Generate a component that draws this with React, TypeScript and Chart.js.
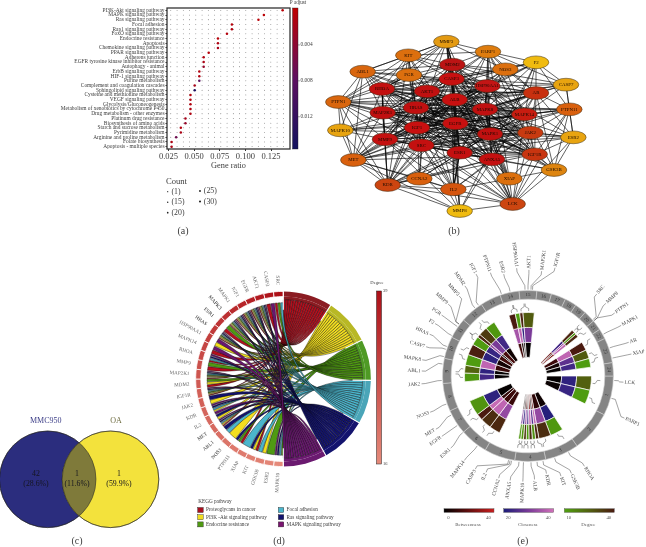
import React, { useEffect, useRef } from "react";
import { Chart, registerables } from "chart.js";
Chart.register(...registerables);

const SERIF = '"Liberation Serif", serif';
const INK = "#3c3c3c";

/* ---------- panel a ---------- */
const pathways = ["PI3K-Akt signaling pathway","MAPK signaling pathway","Ras signaling pathway","Focal adhesion","Rap1 signaling pathway","FoxO signaling pathway","Endocrine resistance","Apoptosis","Chemokine signaling pathway","PPAR signaling pathway","Adherens junction","EGFR tyrosine kinase inhibitor resistance","Autophagy - animal","ErbB signaling pathway","HIF-1 signaling pathway","Purine metabolism","Complement and coagulation cascades","Sphingolipid signaling pathway","Cysteine and methionine metabolism","VEGF signaling pathway","Glycolysis/Gluconeogenesis","Metabolism of xenobiotics by cytochrome P450","Drug metabolism - other enzymes","Platinum drug resistance","Biosynthesis of amino acids","Starch and sucrose metabolism","Pyrimidine metabolism","Arginine and proline metabolism","Folate biosynthesis","Apoptosis - multiple species"];
const geneRatio = [0.1363,0.118,0.1127,0.0868,0.0868,0.082,0.0732,0.0732,0.0732,0.0642,0.0593,0.0593,0.0593,0.055,0.055,0.055,0.0505,0.0505,0.0464,0.0464,0.0464,0.0464,0.0464,0.0415,0.0415,0.037,0.037,0.0324,0.028,0.028];
const pAdjust = [0.0005,0.0004,0.0006,0.001,0.0012,0.001,0.0008,0.0015,0.002,0.0009,0.0012,0.0016,0.0035,0.0012,0.0013,0.0085,0.002,0.0145,0.0011,0.0012,0.0012,0.0013,0.0015,0.0022,0.0035,0.0012,0.0018,0.0065,0.0015,0.0015];
const ratioColumns = [0.0272,0.0333,0.0394,0.0455,0.0516,0.0577,0.0638,0.0699,0.076,0.0821,0.0882,0.0943,0.1004,0.1065,0.1126,0.1187,0.1248,0.1309,0.137];
const padjTicks = [0.004, 0.008, 0.012];
const countLegend = ["(1)", "(15)", "(20)", "(25)", "(30)"];

/* ---------- panel b ---------- */
const nodeNames = ["MMP3","KIT","PARP1","F2","ABL1","PGR","NOS3","MDM2","CASP3","HSP90AA1","CASP7","RHOA","AKT1","AR","ALB","PTPN1","HRAS","MAPK8","MAP2K1","MAPK14","PTPN11","EGFR","IGF1","MAPK10","MAPK1","JAK2","MMP9","ESR2","SRC","ESR1","IGF1R","ANXA5","MET","GSK3B","CCNA2","XIAP","KDR","IL2","LCK","MMP8"];
const nodeX = [409,295,534,678,158,297,586,427,425,532,768,216,351,678,434,85,318,525,218,643,778,436,321,91,540,661,225,790,334,449,674,546,130,732,328,598,233,430,608,449];
const nodeY = [65,106,95,127,155,165,148,134,177,198,194,207,214,219,239,246,263,268,278,283,268,310,323,331,342,338,358,352,376,398,403,418,420,450,476,476,495,508,552,573];
const nodeFill = ["#e39a12","#dc6f0e","#de7c0e","#f0bb10","#d9660e","#dc6f0e","#dc6f0e","#bb1414","#c81010","#c31515","#e8a410","#c41010","#c01010","#c8300f","#c81010","#d9660e","#c01010","#c01010","#c01010","#c81c10","#d9600e","#c81010","#c81010","#e8a410","#c01010","#c83a10","#c41010","#e8a410","#c41010","#c41010","#c83510","#c41010","#d9600e","#de8510","#d9600e","#dc700e","#cc4510","#d5550e","#cc4510","#f0bb10"];
const edgeLists: Record<string, string> = {
  ALB: "EGFR AKT1 HRAS MAPK8 MAPK1 MAPK14 IGF1 SRC ESR1 CASP3 HSP90AA1 RHOA MMP9 MAP2K1 ANXA5 MDM2 IGF1R JAK2 AR IL2 KDR MET MMP3 PARP1 NOS3 PGR F2 CASP7 XIAP LCK MMP8 ABL1 PTPN1",
  EGFR: "AKT1 HRAS MAPK8 MAPK1 MAPK14 IGF1 SRC ESR1 CASP3 HSP90AA1 RHOA MMP9 MAP2K1 ANXA5 MDM2 IGF1R JAK2 AR IL2 KDR MET PTPN1 PTPN11 KIT ABL1 ESR2 GSK3B LCK MAPK10 CCNA2 NOS3 PARP1",
  AKT1: "HRAS MAPK8 MAPK1 MAPK14 IGF1 SRC ESR1 CASP3 HSP90AA1 RHOA MMP9 MAP2K1 ANXA5 MDM2 IGF1R JAK2 AR KDR MET PTPN1 GSK3B XIAP CCNA2 PARP1 NOS3 IL2 PGR LCK KIT",
  MAPK1: "HRAS MAPK8 MAPK14 IGF1 SRC ESR1 CASP3 HSP90AA1 RHOA MMP9 MAP2K1 ANXA5 MDM2 IGF1R JAK2 AR MET KDR PTPN11 GSK3B ESR2 LCK XIAP PARP1 CCNA2 MMP3 MAPK10 PTPN1",
  HRAS: "MAPK8 MAPK14 IGF1 SRC ESR1 CASP3 HSP90AA1 RHOA MMP9 MAP2K1 ANXA5 MDM2 IGF1R JAK2 AR MET KDR PTPN1 PTPN11 ABL1 MAPK10 KIT PGR IL2 CASP7",
  MAPK8: "MAPK14 IGF1 SRC ESR1 CASP3 HSP90AA1 RHOA MMP9 MAP2K1 ANXA5 MDM2 IGF1R JAK2 AR MET XIAP GSK3B PARP1 MAPK10 F2 CASP7 ESR2 LCK",
  SRC: "MAPK14 IGF1 ESR1 CASP3 HSP90AA1 RHOA MMP9 MAP2K1 ANXA5 MDM2 IGF1R JAK2 AR MET KDR PTPN1 PTPN11 ABL1 KIT LCK IL2 ESR2 CCNA2 MMP8",
  ESR1: "MAPK14 IGF1 CASP3 HSP90AA1 RHOA MMP9 MAP2K1 ANXA5 MDM2 IGF1R JAK2 AR IL2 PGR ESR2 CCNA2 KDR LCK XIAP NOS3 MMP3 GSK3B",
  IGF1: "MAPK14 CASP3 HSP90AA1 RHOA MMP9 MAP2K1 ANXA5 MDM2 IGF1R JAK2 AR MET KDR IL2 PTPN1 PTPN11 PGR NOS3 MMP3 F2 CCNA2",
  CASP3: "MAPK14 HSP90AA1 RHOA MMP9 MAP2K1 ANXA5 MDM2 IGF1R JAK2 AR XIAP PARP1 IL2 NOS3 CASP7 MMP3 F2 KIT LCK MMP8 PGR",
  HSP90AA1: "MAPK14 RHOA MMP9 MAP2K1 ANXA5 MDM2 IGF1R JAK2 AR PARP1 NOS3 KIT ABL1 MET KDR ESR2 PGR CASP7",
  RHOA: "MAPK14 MMP9 MAP2K1 ANXA5 MDM2 IGF1R JAK2 AR KIT PGR ABL1 PTPN1 MET KDR MMP3 F2",
  MMP9: "MAPK14 MAP2K1 ANXA5 MDM2 IGF1R JAK2 AR MET KDR IL2 MAPK10 PTPN1 MMP3 MMP8 LCK F2",
  MAP2K1: "MAPK14 ANXA5 MDM2 IGF1R JAK2 MET KDR PTPN1 PTPN11 ABL1 KIT MAPK10 LCK",
  ANXA5: "MAPK14 IGF1R JAK2 AR IL2 LCK XIAP KDR GSK3B MMP8 CCNA2 F2",
  MDM2: "MAPK14 IGF1R JAK2 AR MMP3 PARP1 NOS3 KIT PGR XIAP CASP7 ABL1",
  IGF1R: "MAPK14 JAK2 AR MET KDR PTPN11 GSK3B LCK ESR2 XIAP PARP1",
  MAPK14: "JAK2 AR PTPN11 GSK3B CASP7 F2 NOS3 PARP1 LCK MAPK10",
  JAK2: "AR PTPN11 ESR2 LCK KDR IL2 ABL1 MET",
  AR: "PTPN11 CASP7 ESR2 F2 NOS3 PARP1 GSK3B",
  MMP3: "PARP1 KIT PGR NOS3 ABL1 PTPN1 MMP8",
  KIT: "ABL1 PGR PTPN1 KDR PARP1",
  PARP1: "NOS3 F2 CASP7 XIAP",
  F2: "CASP7 NOS3 PTPN11 MMP8",
  ABL1: "PTPN1 PGR MET MAPK10",
  PTPN1: "MET MAPK10 KDR PGR PTPN11",
  MAPK10: "MET KDR",
  MET: "KDR CCNA2 IL2 MMP8",
  KDR: "IL2 CCNA2 MMP8 LCK",
  IL2: "MMP8 LCK CCNA2 XIAP",
  LCK: "XIAP GSK3B ESR2 MMP8 PTPN11",
  GSK3B: "ESR2 XIAP PTPN11",
  ESR2: "PTPN11 CASP7",
  CASP7: "PTPN11",
};
const strongEdges = ["MMP3 MDM2","MDM2 CASP3","ESR1 IL2","EGFR ESR1","ALB EGFR","PGR RHOA","AKT1 HRAS","HSP90AA1 MAPK8","MAPK8 MAPK1"];

/* ---------- panel c ---------- */
const vennSets = ["MMC950", "OA"];
const vennCounts = ["42", "1", "1"];
const vennShares = ["(28.6%)", "(11.6%)", "(59.9%)"];

/* ---------- panel d ---------- */
const chordPathways = ["Proteoglycans in cancer","PI3K -Akt signaling pathway","Endocrine resistance","Focal adhesion","Ras signaling pathway","MAPK signaling pathway"];
const chordFill = ["#b40f1e","#f2de1f","#4f9a12","#4bb5cc","#12126e","#6a1570"];
const chordBand = ["#8b1c22","#b8b825","#4f9a25","#4aa5b8","#14146e","#6b1a70"];
const chordLegendSwatch = ["#a80f1e","#f0dc20","#4f9a12","#4bb5cc","#12126e","#7a1570"];
const chordGenes = ["MAPK10","ESR2","GSK3B","KIT","XIAP","PTPN11","NOS3","ABL1","MET","IL2","KDR","JAK2","IGF1R","MDM2","MAP2K1","MMP9","RHOA","MAPK14","HSP90AA1","HRAS","ESR1","MAPK3","MAPK1","IGF1","EGFR","AKT1","CASP3","SRC"];
const chordDegree = [16,17,18,18,19,19,20,21,22,22,23,24,24,25,26,27,28,29,30,31,32,33,34,35,36,37,38,39];
const chordMember = ["EFRM","E","IF","PIR","F","PER","I","FR","PIFRM","IRM","IFRM","IR","PIEFRM","PIE","PIEFRM","PE","PFRM","PM","IM","PIEFRM","PE","PIEFRM","PIEFRM","PIEFRM","PIEFRM","PIEFRM","PM","PEF"];
const chordDark = ["MAPK3","ESR1","HRAS","MET","ABL1","NOS3"];
const pathwayKeys = "PIEFRM";

/* ---------- panel e ---------- */
const ringLabels = ["1","2","3","4","5","6","7","8","9","10","11","12","13","14","15","16","17","18","19","20","21","22","23","24"];
const ringSpans = [27,28,23,21,21,19,17,19,17,15,14,16,14,13,12,10,10,8,8,8,7,7,17,9];
const heatSpans = [13,13,31,12,11,3,3,3,2.5,2.5,2.5,2,18,10,10,6,14,18,8,7,10,10,8,3,8,9,14.6,6,4,3,10.2,38.2,3,2,3,6,8,8,8,8];
const heatBetween = [1,2,null,3,9,20,5,26,3,16,6,4,null,11,12,10,1,null,1,1,11,4,13,2,14,3,null,13,5,2,1,null,22,10,24,null,12,4,1,null];
const heatClose = [22,23,null,21,33,38,26,39,24,34,22,30,null,33,38,39,22,null,24,22,38,22,23,34,30,24,null,35,38,22,30,null,24,33,38,null,38,27,24,null];
const heatDegree = [25,11,null,12,36,38,14,36,11,34,13,12,null,37,36,40,13,null,12,24,11,39,11,38,33,12,null,40,11,38,26,null,38,12,37,null,40,26,11,null];
const eGenes = ["MMP3","MMP9","PGR","F2","HRAS","CASP7","MAPK8","ABL1","JAK2","NOS3","MET","EGFR","ESR1","MAPK14","CASP3","IL2","CCNA2","ANXA5","MAPK10","ALB","KDR","KIT","GSK3B","RHOA","PARP1","LCK","XIAP","AR","MAPK1","PTPN1","MMP8","SRC","IGF1R","MAP2K1","AKT1","HSP90AA1","ESR2","PTPN11","IGF1","MDM2"];
const eLabelAngle = [319.3,312,305.2,299.4,293,286,278.7,272.7,265.8,249.7,240,235,227,217,209.5,203.5,196,189.7,182.8,176.4,169.3,161.8,156,148,113.6,93.7,78,71.5,61.5,54,47,40,14,7.4,0.5,354,346.6,340,333,325];
const eLabelRadius = [114,116,112,110.6,115,115,117,114,114,112,113,113,113,117,116,110,116,116,117,110,106,111,116,115,114,102,113,111,116,116,115,113,120,117,114,122,112,120,121,119];
const eAnchorAngle = [307,307,305,298,290,288,283,278,267,251,243,235,229,216,193,192,191,186,183,178,174,170,162,152,105,93,78,71,61,50,50,49,3,2,0,358,348,342,325,322];
const betweenBar = ["#000000", "#c81e1e"];
const closeBar = ["#1c1c78", "#7a3a98", "#d070b8"];
const degreeBar = ["#4fa010", "#52600f", "#4a1a10"];
const barTitles = ["Betweenness", "Closeness", "Degree"];
const barTicks = [["0","40"],["20","40"],["10","40"]];

/* ---------- helpers ---------- */
type Box = { x: number; y: number; w: number; h: number };
const text = (ctx: any, s: string, x: number, y: number, size: number, color = INK, align = "center", rot = 0) => {
  ctx.save();
  ctx.translate(x, y);
  if (rot) ctx.rotate(rot);
  ctx.font = `${size}px ${SERIF}`;
  ctx.fillStyle = color;
  ctx.textAlign = align;
  ctx.textBaseline = "middle";
  ctx.fillText(s, 0, 0);
  ctx.restore();
};
const hex = (c: string) => [1, 3, 5].map((i) => parseInt(c.slice(i, i + 2), 16));
const ramp = (stops: string[], t: number) => {
  const u = Math.max(0, Math.min(0.9999, t)) * (stops.length - 1);
  const i = Math.floor(u), f = u - i;
  const a = hex(stops[i]), b = hex(stops[i + 1]);
  return `rgb(${a.map((v, k) => Math.round(v + (b[k] - v) * f)).join(",")})`;
};
const padjStops = ["#c00000", "#5e1060", "#12125e"];
const PADJ_MAX = 0.0157;
let pluginSeq = 0;
const page = (box: Box, draw: (ctx: any, chart: any) => void) => ({
  id: "page" + pluginSeq++,
  afterDatasetsDraw(chart: any) {
    const ctx = chart.ctx;
    ctx.save();
    ctx.translate(-box.x, -box.y);
    draw(ctx, chart);
    ctx.restore();
  },
});
const hideAxis = { display: false };
const base = { responsive: false, animation: false, events: [], plugins: { legend: { display: false }, tooltip: { enabled: false } } };

/* ---------- configs ---------- */
function configA(box: Box) {
  const grid: any[] = [];
  pathways.forEach((p) => ratioColumns.forEach((r) => grid.push({ x: r, y: p })));
  const points = pathways.map((p, i) => ({ x: geneRatio[i], y: p }));
  return {
    type: "scatter",
    data: { datasets: [
      { data: points, order: 1, pointRadius: 1.25, borderWidth: 0, backgroundColor: pAdjust.map((v) => ramp(padjStops, v / PADJ_MAX)) },
      { data: grid, order: 2, pointRadius: 0.42, borderWidth: 0, backgroundColor: "#333" },
    ] },
    options: { ...base,
      layout: { autoPadding: false, padding: { top: 8, right: box.w - 290, bottom: box.h - 171, left: 0 } },
      scales: {
        x: { type: "linear", min: 0.0235, max: 0.1435,
          afterFit: (s: any) => { s.height = 22; },
          grid: { drawOnChartArea: false, tickLength: 2, color: "#333" }, border: { display: false },
          ticks: { stepSize: 0.025, includeBounds: false, padding: 1, maxRotation: 0, color: INK, font: { family: SERIF, size: 8.5 }, callback: (v: number) => v.toFixed(3) },
          title: { display: true, text: "Gene ratio", color: INK, padding: 0, font: { family: SERIF, size: 8.3 } } },
        y: { type: "category", labels: pathways, offset: true,
          afterFit: (s: any) => { s.width = 167; },
          grid: { drawOnChartArea: false, tickLength: 1.5, color: "#333" }, border: { display: false },
          ticks: { autoSkip: false, padding: 1, color: INK, font: { family: SERIF, size: 5.4 } } },
      },
    },
    plugins: [page(box, (ctx, chart) => {
      const a = chart.chartArea;
      ctx.strokeStyle = "#333"; ctx.lineWidth = 1.3;
      ctx.strokeRect(a.left, a.top, a.right - a.left, a.bottom - a.top);
      const g = ctx.createLinearGradient(0, a.top, 0, a.bottom);
      padjStops.forEach((c, i) => g.addColorStop(i / 2, c));
      ctx.fillStyle = g; ctx.fillRect(292.5, a.top, 5.5, a.bottom - a.top);
      ctx.strokeStyle = "#222"; ctx.lineWidth = 0.4; ctx.strokeRect(292.5, a.top, 5.5, a.bottom - a.top);
      padjTicks.forEach((v) => {
        const y = a.top + (v / PADJ_MAX) * (a.bottom - a.top) + 1;
        ctx.beginPath(); ctx.moveTo(298, y); ctx.lineTo(300, y); ctx.stroke();
        text(ctx, v.toFixed(3), 300.5, y, 5.4, INK, "left");
      });
      text(ctx, "P adjust", 298, 2.5, 5.2);
      text(ctx, "Count", 166, 182, 8.6, INK, "left");
      countLegend.forEach((s, i) => {
        const col = i < 3 ? 0 : 1;
        const y = col ? 191 + (i - 3) * 10.5 : 191.7 + i * 10.5;
        const x = col ? 200 : 167.7;
        ctx.fillStyle = "#222"; ctx.beginPath(); ctx.arc(x, y, 0.6 + i * 0.12, 0, 7); ctx.fill();
        text(ctx, s, x + 3.8, y, 7.8, INK, "left");
      });
      text(ctx, "(a)", 183, 231, 10);
    })],
  };
}

function configB(box: Box) {
  const pos: Record<string, { x: number; y: number }> = {};
  nodeNames.forEach((n, i) => { pos[n] = { x: nodeX[i], y: nodeY[i] }; });
  const gap = { x: NaN, y: NaN };
  const edges: any[] = [];
  Object.entries(edgeLists).forEach(([a, list]) => list.split(" ").forEach((b) => { if (pos[a] && pos[b]) edges.push(pos[a], pos[b], gap); }));
  const strong: any[] = [];
  strongEdges.forEach((e) => { const [a, b] = e.split(" "); strong.push(pos[a], pos[b], gap); });
  return {
    type: "scatter",
    data: { datasets: [
      { data: nodeNames.map((n) => pos[n]), order: 1, pointRadius: 5, borderWidth: 0, backgroundColor: nodeFill },
      { data: edges, order: 3, showLine: true, pointRadius: 0, borderWidth: 0.7, borderColor: "rgba(5,5,5,0.9)", spanGaps: false },
      { data: strong, order: 2, showLine: true, pointRadius: 0, borderWidth: 1.4, borderColor: "#111", spanGaps: false },
    ] },
    options: { ...base, layout: { autoPadding: false, padding: 0 },
      scales: { x: { ...hideAxis, type: "linear", min: 0, max: 1008 }, y: { ...hideAxis, type: "linear", min: 0, max: 780, reverse: true } } },
    plugins: [page(box, (ctx, chart) => {
      const meta = chart.getDatasetMeta(0);
      meta.data.forEach((pt: any, i: number) => {
        const x = pt.x + box.x, y = pt.y + box.y;
        ctx.beginPath(); ctx.ellipse(x, y, 12.8, 6.4, 0, 0, 7);
        ctx.fillStyle = nodeFill[i]; ctx.fill();
        ctx.strokeStyle = "#3a2a10"; ctx.lineWidth = 0.5; ctx.stroke();
        text(ctx, nodeNames[i], x, y, 4.9, "#1a0a00");
      });
      text(ctx, "(b)", 454, 231, 10);
    })],
  };
}

function configC(box: Box) {
  const R = 48.3;
  const discs = [{ x: 47.7, y: 69.3, r: R }, { x: 110.5, y: 69.3, r: R }];
  return {
    type: "bubble",
    data: { datasets: [{ data: discs, clip: false, borderWidth: 0.5, borderColor: "#222", backgroundColor: ["#2b2d7e", "#f3e23c"] }] },
    options: { ...base, layout: { autoPadding: false, padding: 0 },
      scales: { x: { ...hideAxis, min: 0, max: box.w }, y: { ...hideAxis, min: 0, max: box.h, reverse: true } } },
    plugins: [page(box, (ctx, chart) => {
      const [a, b] = chart.getDatasetMeta(0).data;
      const ax = a.x + box.x, ay = a.y + box.y, bx = b.x + box.x, by = b.y + box.y;
      ctx.save();
      ctx.beginPath(); ctx.arc(ax, ay, R, 0, 7); ctx.clip();
      ctx.beginPath(); ctx.arc(bx, by, R, 0, 7); ctx.fillStyle = "#7f7a3a"; ctx.fill();
      ctx.restore();
      ctx.strokeStyle = "#222"; ctx.lineWidth = 0.5;
      ctx.beginPath(); ctx.arc(ax, ay, R, 0, 7); ctx.stroke();
      ctx.beginPath(); ctx.arc(bx, by, R, 0, 7); ctx.stroke();
      text(ctx, vennSets[0], 45.7, 420.7, 8, "#3a3c86");
      text(ctx, vennSets[1], 116, 420.7, 8, "#6e6c40");
      const cx = [36, 77, 119];
      vennCounts.forEach((s, i) => {
        text(ctx, s, cx[i], 474, 7.8, "#15151f");
        text(ctx, vennShares[i], cx[i], 484, 7.8, "#15151f");
      });
      text(ctx, "(c)", 77, 541.5, 10);
    })],
  };
}

function configD(box: Box) {
  const counts = pathwayKeys.split("").map((k) => chordMember.filter((m) => m.includes(k)).length);
  const total = counts.reduce((a, b) => a + b, 0);
  const geneShare = chordGenes.map(() => total / chordGenes.length);
  const geneColor = chordDegree.map((d) => ramp(["#e58a7a", "#ad1018"], (d - 16) / 23));
  const cx = 283.3 - box.x, cy = 379 - box.y, R = 88;
  return {
    type: "doughnut",
    data: { labels: [...chordPathways, ...chordGenes], datasets: [
      { data: [...counts, ...geneShare], weight: 5.2, backgroundColor: [...chordBand, ...geneColor], borderColor: "#fff", borderWidth: [0,0,0,0,0,0, ...geneShare.map(() => 0.8)] },
      { data: [...counts, ...geneShare], weight: 3.2, backgroundColor: [...chordBand, ...geneShare.map(() => "rgba(0,0,0,0)")], borderWidth: 0 },
    ] },
    options: { ...base, cutout: "90.5%", rotation: 0, circumference: 360,
      layout: { padding: { left: cx - R, right: box.w - cx - R, top: cy - R, bottom: box.h - cy - R } } },
    plugins: [page(box, (ctx, chart) => {
      const outer = chart.getDatasetMeta(0).data, inner = chart.getDatasetMeta(1).data;
      const ox = outer[0].x + box.x, oy = outer[0].y + box.y;
      const rp = inner[0].innerRadius, rg = rp - 3, rc = rp * 0.3;
      const used = counts.map(() => 0);
      const bands: any[][] = counts.map(() => []);
      for (let g = 0; g < chordGenes.length; g++) {
        const arc = outer[6 + g];
        const keys = chordMember[g].split("").map((k) => pathwayKeys.indexOf(k)).sort((a, b) => a - b);
        const w = (arc.endAngle - arc.startAngle) / keys.length;
        keys.forEach((p, j) => {
          const pa = outer[p];
          const pw = (pa.endAngle - pa.startAngle) / counts[p];
          const s = used[p]++;
          bands[p].push([pa.startAngle + s * pw, pa.startAngle + (s + 1) * pw, arc.startAngle + j * w + 0.004, arc.startAngle + (j + 1) * w - 0.004]);
        });
      }
      const cp = (a: number) => [ox + rc * Math.cos(a), oy + rc * Math.sin(a)];
      bands.forEach((list, p) => list.forEach(([a0, a1, b0, b1]) => {
        const [c1x, c1y] = cp(a1), [c2x, c2y] = cp(b0), [c3x, c3y] = cp(b1), [c4x, c4y] = cp(a0);
        ctx.beginPath();
        ctx.arc(ox, oy, rp, a0, a1);
        ctx.bezierCurveTo(c1x, c1y, c2x, c2y, ox + rg * Math.cos(b0), oy + rg * Math.sin(b0));
        ctx.arc(ox, oy, rg, b0, b1);
        ctx.bezierCurveTo(c3x, c3y, c4x, c4y, ox + rp * Math.cos(a0), oy + rp * Math.sin(a0));
        ctx.closePath();
        ctx.fillStyle = chordFill[p]; ctx.fill();
        ctx.strokeStyle = "#0a0a0a"; ctx.lineWidth = 0.42; ctx.stroke();
      }));
      ctx.strokeStyle = "#fff"; ctx.lineWidth = 1.1;
      for (let p = 0; p <= 6; p++) {
        const a = p < 6 ? outer[p].startAngle : outer[5].endAngle;
        ctx.beginPath();
        ctx.moveTo(ox + (rp - 10) * Math.cos(a), oy + (rp - 10) * Math.sin(a));
        ctx.lineTo(ox + (R + 1) * Math.cos(a), oy + (R + 1) * Math.sin(a));
        ctx.stroke();
      }
      chordGenes.forEach((name, g) => {
        const arc = outer[6 + g];
        const m = (arc.startAngle + arc.endAngle) / 2;
        const x = ox + 94 * Math.cos(m), y = oy + 94 * Math.sin(m);
        text(ctx, name, x, y, 5.1, chordDark.includes(name) ? "#1c1c1c" : "#666", "right", m + Math.PI);
      });
      const top = 291, bottom = 464;
      const g = ctx.createLinearGradient(0, top, 0, bottom);
      g.addColorStop(0, "#ad1018"); g.addColorStop(1, "#e58a7a");
      ctx.fillStyle = g; ctx.fillRect(376.5, top, 5, bottom - top);
      ctx.strokeStyle = "#222"; ctx.lineWidth = 0.5; ctx.strokeRect(376.5, top, 5, bottom - top);
      text(ctx, "Degree", 377, 282.5, 4.6);
      text(ctx, String(chordDegree[27]), 383, top, 4.4, INK, "left");
      text(ctx, String(chordDegree[0]), 383, bottom, 4.4, INK, "left");
      text(ctx, "KEGG pathway", 198.3, 502, 5.2, INK, "left");
      chordPathways.forEach((s, i) => {
        const col = i < 3 ? 0 : 1, y = 510 + (i % 3) * 7.2;
        const x = col ? 278.3 : 197.7;
        ctx.fillStyle = chordLegendSwatch[i]; ctx.fillRect(x, y - 2.5, 5.5, 5);
        ctx.strokeStyle = "#222"; ctx.lineWidth = 0.4; ctx.strokeRect(x, y - 2.5, 5.5, 5);
        text(ctx, s, x + 8.3, y, 5.2, INK, "left");
      });
      text(ctx, "(d)", 279, 541.5, 10);
    })],
  };
}

function configE(box: Box) {
  const cx = 528 - box.x, cy = 376 - box.y, R = 85.7;
  const none = "rgba(0,0,0,0)";
  const paint = (vals: (number | null)[], stops: string[], lo: number, hi: number) =>
    vals.map((v) => (v === null ? none : ramp(stops, (v - lo) / (hi - lo))));
  const isGap = heatBetween.map((v) => v === null);
  const cellBorder = isGap.map((g) => (g ? 0 : 0.7));
  const track = (weight: number, colors: string[]) => ({ data: heatSpans, weight, backgroundColor: colors, borderColor: "#fff", borderWidth: cellBorder });
  return {
    type: "doughnut",
    data: { datasets: [
      { data: ringSpans, weight: 8.6, backgroundColor: "#858585", borderColor: "#cfcfcf", borderWidth: 0.6 },
      { data: [1], weight: 13.4, backgroundColor: none, borderWidth: 0 },
      track(15, paint(heatDegree, degreeBar, 10, 40)),
      track(15, paint(heatClose, closeBar, 20, 40)),
      track(15, paint(heatBetween, betweenBar, 0, 40)),
    ] },
    options: { ...base, cutout: 18.7, rotation: 90, circumference: 360,
      layout: { padding: { left: cx - R, right: box.w - cx - R, top: cy - R, bottom: box.h - cy - R } } },
    plugins: [page(box, (ctx, chart) => {
      const ring = chart.getDatasetMeta(0).data;
      const heat = chart.getDatasetMeta(2).data;
      const ox = ring[0].x + box.x, oy = ring[0].y + box.y;
      const RO = ring[0].outerRadius;
      const polar = (deg: number, r: number) => {
        const a = ((deg - 90) * Math.PI) / 180;
        return [ox + r * Math.cos(a), oy + r * Math.sin(a)];
      };
      ring.forEach((arc: any, i: number) => {
        const m = (arc.startAngle + arc.endAngle) / 2;
        const r = (arc.innerRadius + arc.outerRadius) / 2;
        let rot = m + Math.PI / 2;
        if (Math.sin(m) > 0.2) rot += Math.PI;
        text(ctx, ringLabels[i], ox + r * Math.cos(m), oy + r * Math.sin(m), 5, "#333", "center", rot);
      });
      ctx.strokeStyle = "#333"; ctx.lineWidth = 0.45;
      eGenes.forEach((name, i) => {
        const th = eLabelAngle[i], r = eLabelRadius[i];
        ctx.font = `5.2px ${SERIF}`;
        const half = ctx.measureText(name).width / 2;
        const right = th < 180;
        const a = ((th - 90) * Math.PI) / 180;
        const [lx, ly] = polar(th, r);
        const [ex, ey] = polar(th, r - half - 1.2);
        const [kx, ky] = polar(th, r - half - 5);
        const [mx, my] = polar(eAnchorAngle[i], RO + 5);
        const [sx, sy] = polar(eAnchorAngle[i], RO + 1);
        ctx.beginPath(); ctx.moveTo(sx, sy); ctx.lineTo(mx, my); ctx.lineTo(kx, ky); ctx.lineTo(ex, ey); ctx.stroke();
        text(ctx, name, lx, ly, 5.2, "#444", "center", right ? a : a + Math.PI);
      });
      let shift = 1;
      heat.forEach((arc: any, i: number) => {
        if (isGap[i]) return;
        const m = (arc.startAngle + arc.endAngle) / 2;
        const r = arc.outerRadius;
        shift = -shift;
        const pts = [[r + 1.5, 0], [r + 4, 0], [r + 6, shift * 0.05], [r + 9, shift * 0.05]];
        ctx.beginPath();
        pts.forEach(([q, d], k) => {
          const x = ox + q * Math.cos(m + d), y = oy + q * Math.sin(m + d);
          if (k) ctx.lineTo(x, y); else ctx.moveTo(x, y);
        });
        ctx.stroke();
      });
      const bars = [betweenBar, closeBar, degreeBar];
      const barX = [444, 503.7, 564.3];
      bars.forEach((stops, b) => {
        const x = barX[b], w = 50;
        const g = ctx.createLinearGradient(x, 0, x + w, 0);
        stops.forEach((c, k) => g.addColorStop(k / (stops.length - 1), c));
        ctx.fillStyle = g; ctx.fillRect(x, 508.7, w, 3.7);
        ctx.strokeStyle = "#555"; ctx.lineWidth = 0.4; ctx.strokeRect(x, 508.7, w, 3.7);
        text(ctx, barTicks[b][0], x + 4.5, 518, 4.8, "#555");
        text(ctx, barTicks[b][1], x + 44.5, 518, 4.8, "#555");
        text(ctx, barTitles[b], x + 24, 524.5, 4.9, "#555");
      });
      text(ctx, "(e)", 522.7, 541.5, 10);
    })],
  };
}

const boxes: Box[] = [
  { x: 0, y: 0, w: 320, h: 240 },
  { x: 310, y: 20, w: 336, h: 260 },
  { x: 0, y: 410, w: 170, h: 137 },
  { x: 150, y: 265, w: 240, h: 282 },
  { x: 395, y: 240, w: 251, h: 307 },
];
const builders = [configA, configB, configC, configD, configE];

export default function App() {
  const refs = useRef<(HTMLCanvasElement | null)[]>([]);
  useEffect(() => {
    const charts = boxes.map((box, i) => new Chart(refs.current[i] as any, builders[i](box) as any));
    return () => charts.forEach((c) => c.destroy());
  }, []);
  return (
    <div style={{ position: "absolute", left: 0, top: 0, width: 646, height: 547, overflow: "hidden", background: "#fff", filter: "blur(0.35px)" }}>
      {boxes.map((b, i) => (
        <canvas key={i} ref={(el) => { refs.current[i] = el; }} width={b.w} height={b.h}
          style={{ position: "absolute", left: b.x, top: b.y, width: b.w, height: b.h, display: "block" }} />
      ))}
    </div>
  );
}
